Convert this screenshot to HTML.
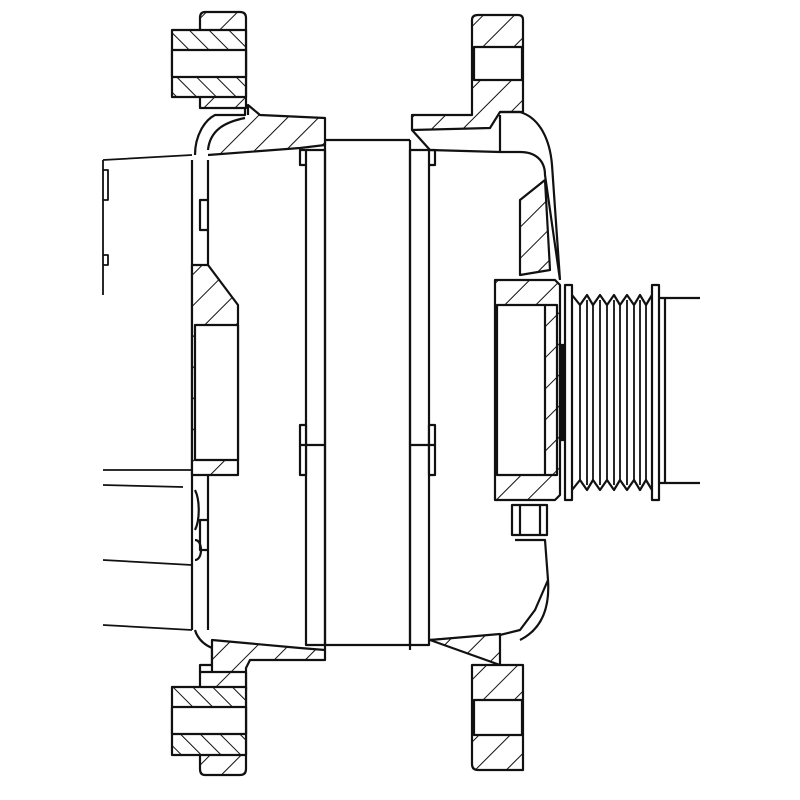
<!DOCTYPE html>
<html><head><meta charset="utf-8"><style>html,body{margin:0;background:#fff}svg{display:block}</style></head>
<body>
<svg width="800" height="800" viewBox="0 0 800 800" xmlns="http://www.w3.org/2000/svg">
<defs>
<pattern id="h" width="22" height="22" patternUnits="userSpaceOnUse" patternTransform="rotate(45)">
<rect width="22" height="22" fill="#fff"/><line x1="0" y1="0" x2="0" y2="22" stroke="#111" stroke-width="2"/></pattern>
<pattern id="h2" width="14" height="14" patternUnits="userSpaceOnUse" patternTransform="rotate(-45)">
<rect width="14" height="14" fill="#fff"/><line x1="0" y1="0" x2="0" y2="14" stroke="#111" stroke-width="2"/></pattern>
</defs>
<g fill="none" stroke="#111" stroke-width="2.2" stroke-linejoin="round">
<path d="M103 160 L192 155 M103 160 V295 M103 170 h5 v30 h-5 M103 255 h5 v10 h-5 M103 470 H192 M103 485 L183 487 M103 560 L192 565 M103 625 L192 630" stroke-width="1.8"/>
<path d="M325 140 H410 M325 645 H410"/>
<rect x="306" y="150" width="19" height="495"/>
<rect x="410" y="150" width="19" height="495"/>
<path d="M300 140 h25 v10 M325 140 V650 M305 150 h-5 v15 h6 M410 140 V650 M430 150 h5 v15 h-6"/>
<path d="M300 425 h6 v50 h-6 z M300 445 h25 M435 425 h-6 v50 h6 z M410 445 h25" fill="#fff"/>
<path d="M192 160 V630 M208 160 V630 M200 200 h8 v30 h-8 z M200 520 h8 v30 h-8 z"/>
<path d="M192 265 L208 265 L238 305 V475 H192 Z" fill="url(#h)"/>
<path d="M195 325 H238 V460 H195 Z" fill="#fff"/>
<path d="M195 490 c5 10 5 30 0 40 M195 540 c8 0 8 20 0 20"/>
<path d="M195 155 C195 135 205 120 215 115 H245 V98 H200 M245 98 V40" />
<path d="M208 155 L300 148 L325 145 V118 L260 115 L248 105 V115 M208 150 C210 130 225 122 245 118" fill="url(#h)"/>
<path d="M205 12 H240 Q246 12 246 18 V108 H200 V18 Q200 12 205 12 Z" fill="url(#h)"/>
<rect x="172" y="30" width="74" height="67" fill="url(#h2)"/>
<rect x="172" y="50" width="74" height="27" fill="#fff"/>
<path d="M195 630 C198 640 205 645 212 648 V665 H200 V672"/>
<path d="M212 640 L300 648 L325 650 V660 H250 L246 668 V690 H212 Z" fill="url(#h)"/>
<path d="M205 775 H240 Q246 775 246 769 V672 H200 V769 Q200 775 205 775 Z" fill="url(#h)"/>
<rect x="172" y="687" width="74" height="68" fill="url(#h2)"/>
<rect x="172" y="707" width="74" height="27" fill="#fff"/>
<path d="M478 15 H518 Q523 15 523 20 V112 H500 L490 128 L412 130 V115 H472 V20 Q472 15 478 15 Z" fill="url(#h)"/>
<rect x="474" y="47" width="48" height="33" fill="#fff"/>
<path d="M412 130 L430 150 L500 152 H520 C535 152 545 160 545 175 L560 280 M500 112 H520 C540 118 550 140 552 165 L560 280"/>
<path d="M500 152 V115"/>
<path d="M520 200 L545 180 L550 270 L520 275 Z" fill="url(#h)"/>
<path d="M495 280 H555 L560 285 V495 L555 500 H495 Z" fill="url(#h)"/>
<path d="M497 305 H545 V475 H497 Z" fill="#fff"/>
<path d="M545 305 h12 v170 h-12"/>
<rect x="560" y="345" width="4" height="95" fill="#111"/>
<path d="M512 505 h35 v30 h-35 z M520 505 v30 M540 505 v30" fill="#fff"/>
<path d="M515 540 L545 540 L548 580 L535 610 L520 630 L500 635 L430 640 M520 640 C540 630 550 610 548 580"/>
<path d="M430 640 L500 634 L500 665 L523 665 V770 H478 Q472 770 472 764 V665 H500 Z" fill="url(#h)"/>
<rect x="474" y="700" width="48" height="35" fill="#fff"/>
<rect x="565" y="285" width="7" height="215"/>
<rect x="652" y="285" width="7" height="215"/>
<path d="M572 295 L580 305 L587 295 L593 305 L600 295 L607 305 L614 295 L620 305 L627 295 L634 305 L640 295 L646 305 L652 295 M572 490 L580 480 L587 490 L593 480 L600 490 L607 480 L614 490 L620 480 L627 490 L634 480 L640 490 L646 480 L652 490"/>
<path d="M580 305 V480 M587 300 V485 M593 305 V480 M600 300 V485 M607 305 V480 M614 300 V485 M620 305 V480 M627 300 V485 M634 305 V480 M640 300 V485 M646 305 V480" stroke-width="1.8"/>
<path d="M659 298 H700 M659 483 H700 M665 298 V483"/>
</g>
</svg>
</body></html>
